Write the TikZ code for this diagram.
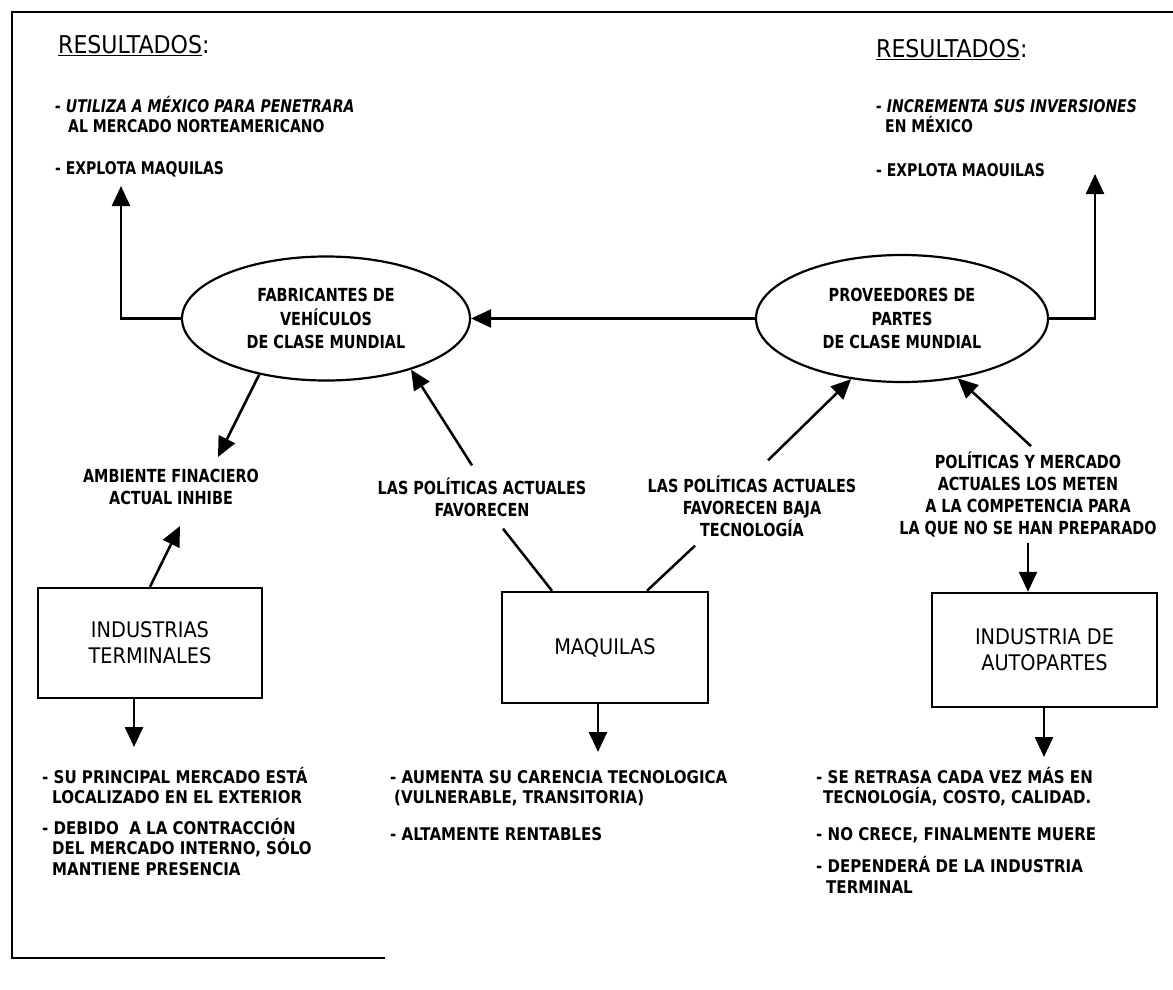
\documentclass[tikz,border=0pt]{standalone}
\usepackage{fontspec}
\setmainfont{DejaVu Sans}[FakeStretch=0.9]
\newfontfamily\lblfam{DejaVu Sans}[FakeStretch=0.8]
\newfontfamily\lstfam{DejaVu Sans}[FakeStretch=0.86]
\usetikzlibrary{shapes.geometric,arrows.meta}

% type sizes used in the chart
\newcommand\txtfont{\lblfam\bfseries\fontsize{18}{22}\selectfont}
\newcommand\lstfont{\lstfam\bfseries\fontsize{17.5}{20.5}\selectfont}
\newcommand\toplstfont{\lblfam\bfseries\fontsize{17.5}{20.5}\selectfont}
\newcommand\boxfont{\fontsize{21.5}{26}\selectfont}
\newcommand\ovalfont{\lblfam\bfseries\fontsize{18}{23.5}\selectfont}
\newcommand\headfont{\fontsize{24.5}{28}\selectfont}

\begin{document}
\begin{tikzpicture}[x=1pt,y=-1pt,
  frame/.style={line width=2pt},
  head/.style={font=\headfont, inner sep=0pt},
  lbl/.style={font=\txtfont, align=center, inner sep=0pt},
  lst/.style={font=\lstfont, align=left, inner sep=0pt, anchor=north west},
  toplst/.style={lst, font=\toplstfont},
  oval/.style={ellipse, draw, line width=2.2pt, font=\ovalfont, align=center, inner sep=0pt},
  blk/.style={rectangle, draw, line width=2.5pt, font=\boxfont, align=center, inner sep=0pt},
  arr/.style={line width=2.5pt, -{Triangle[length=20pt,width=18pt]}},
  ln/.style={line width=2.5pt}]

\useasboundingbox (0,0) rectangle (1173,989);

% outer frame (open on the right)
\draw[frame] (1173,12) -- (12,12) -- (12,958) -- (385,958);

% headings and results
\node[head, anchor=base west] (resL) at (58,53) {\underline{RESULTADOS}:};
\node[head, anchor=base west] (resR) at (876,57) {\underline{RESULTADOS}:};

\node[toplst] (listL) at (55,96) {{\itshape - UTILIZA A MÉXICO PARA PENETRARA}\\
  \hspace*{13pt}AL MERCADO NORTEAMERICANO\\[21pt]
  - EXPLOTA MAQUILAS};
\node[toplst] (listR) at (876,99) {{\itshape - INCREMENTA SUS INVERSIONES}\\
  \hspace*{9pt}EN MÉXICO\\[23pt]
  - EXPLOTA MAOUILAS};

% world-class actors
\node[oval, minimum width=288pt, minimum height=124pt] (fab) at (326,318.5)
  {FABRICANTES DE\\VEHÍCULOS\\DE CLASE MUNDIAL};
\node[oval, minimum width=292pt, minimum height=127pt] (prov) at (902,318.5)
  {PROVEEDORES DE\\PARTES\\DE CLASE MUNDIAL};

% conditions
\node[lbl] (amb) at (171,487) {AMBIENTE FINACIERO\\ACTUAL INHIBE};
\node[lbl] (pol1) at (482,497) {LAS POLÍTICAS ACTUALES\\FAVORECEN};
\node[lbl] (pol2) at (752,506) {LAS POLÍTICAS ACTUALES\\FAVORECEN BAJA\\TECNOLOGÍA};
\node[lbl] (pol3) at (1028,494) {POLÍTICAS Y MERCADO\\ACTUALES LOS METEN\\A LA COMPETENCIA PARA\\LA QUE NO SE HAN PREPARADO};

% national industry
\node[blk, minimum width=224pt, minimum height=110pt] (ind) at (150,643) {INDUSTRIAS\\TERMINALES};
\node[blk, minimum width=206pt, minimum height=111pt] (maq) at (605,647.5) {MAQUILAS};
\node[blk, minimum width=225pt, minimum height=114pt] (autop) at (1044.5,650) {INDUSTRIA DE\\AUTOPARTES};

% outcomes
\node[lst] (outInd) at (42,767) {- SU PRINCIPAL MERCADO ESTÁ\\
  \hspace*{10pt}LOCALIZADO EN EL EXTERIOR\\[10pt]
  - DEBIDO\ \ A LA CONTRACCIÓN\\
  \hspace*{10pt}DEL MERCADO INTERNO, SÓLO\\
  \hspace*{10pt}MANTIENE PRESENCIA};
\node[lst] (outMaq) at (390,770) {- AUMENTA SU CARENCIA TECNOLOGICA\\
  \hspace*{4pt}(VULNERABLE, TRANSITORIA)\\[16pt]
  - ALTAMENTE RENTABLES};
\node[lst] (outAut) at (816,767) {- SE RETRASA CADA VEZ MÁS EN\\
  \hspace*{7pt}TECNOLOGÍA, COSTO, CALIDAD.\\[16pt]
  - NO CRECE, FINALMENTE MUERE\\[12pt]
  - DEPENDERÁ DE LA INDUSTRIA\\
  \hspace*{10pt}TERMINAL};

% free arrow ends
\coordinate (tipResL) at (121,186);
\coordinate (tipResR) at (1095,174);
\coordinate (tipInd) at (134,747);
\coordinate (tipMaq) at (598,752);
\coordinate (tipAut) at (1044,757);

% connectors
\draw[arr] (fab.west) -| (tipResL);
\draw[arr] (prov.east) -| (tipResR);
\draw[arr] (prov.west) -- (fab.east);

\draw[arr] (fab.220) -- ([xshift=47pt,yshift=12pt]amb.north);
\draw[arr] (ind.north) -- ([xshift=9pt,yshift=-21pt]amb.south);
\draw[arr] (ind.south -| tipInd) -- (tipInd);

\draw[ln] ([xshift=-53pt]maq.north) -- ([xshift=21pt,yshift=-12pt]pol1.south);
\draw[arr] ([xshift=-10pt,yshift=12pt]pol1.north) -- (fab.-31);
\draw[ln] ([xshift=42pt]maq.north) -- ([xshift=-57pt,yshift=-9pt]pol2.south);
\draw[arr] ([xshift=16pt,yshift=15pt]pol2.north) -- (prov.230);
\draw[arr] (maq.south -| tipMaq) -- (tipMaq);

\draw[arr] ([xshift=3pt,yshift=5pt]pol3.north) -- (prov.-47);
\draw[arr] ([yshift=-6pt]pol3.south) -- (pol3.south |- autop.north);
\draw[arr] (autop.south -| tipAut) -- (tipAut);

\end{tikzpicture}
\end{document}
